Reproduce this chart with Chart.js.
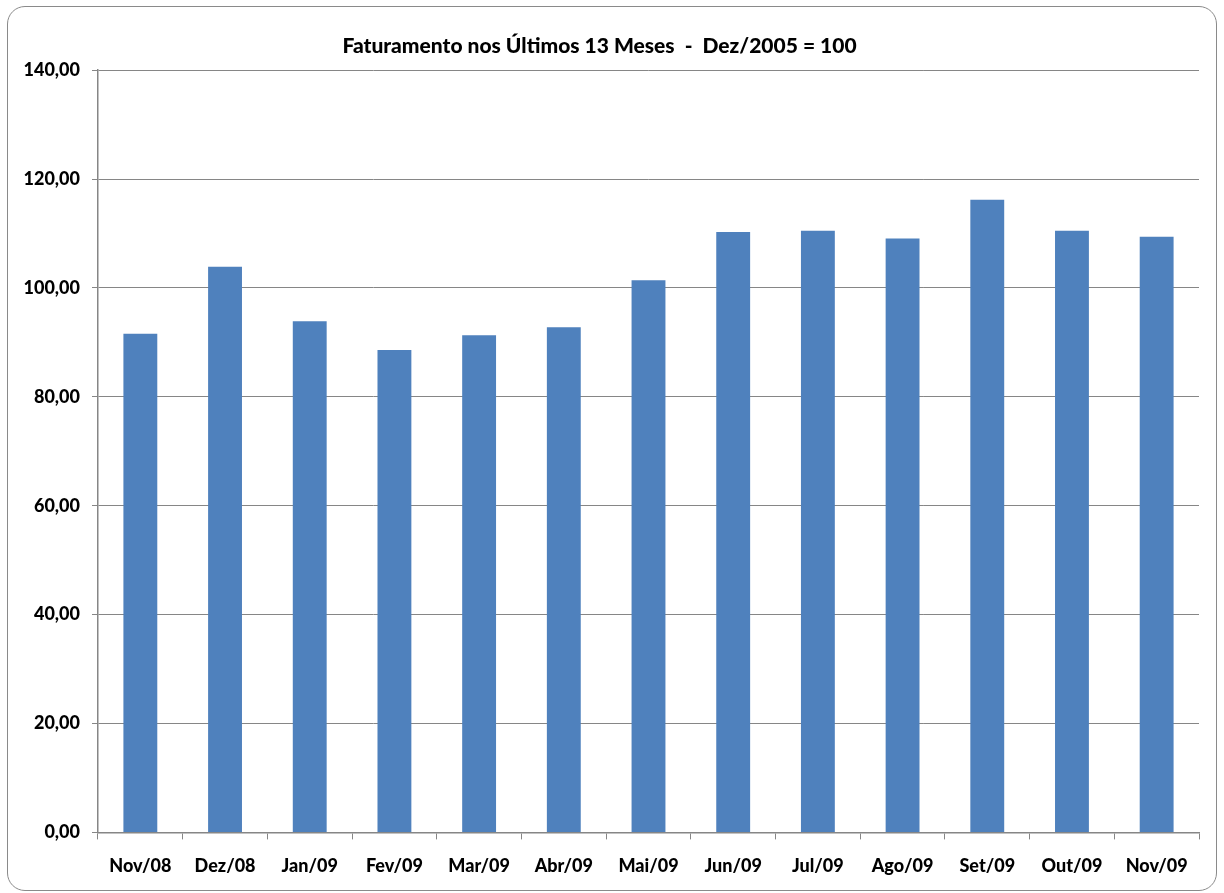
<!DOCTYPE html>
<html>
<head>
<meta charset="utf-8">
<script src="https://cdn.jsdelivr.net/npm/chart.js@4"></script>
<style>
  html, body { margin: 0; padding: 0; background: #fff; }
  #wrap { position: relative; width: 1224px; height: 893px; }
  #frame { position: absolute; left: 7px; top: 6px; width: 1208px; height: 883px;
           border: 1.5px solid #8a8a8a; border-radius: 18px; pointer-events: none; }
  canvas { position: absolute; left: 0; top: 0; }
</style>
</head>
<body>
<div id="wrap">
  <canvas id="c" width="1224" height="893"></canvas>
  <div id="frame"></div>
</div>
<script>
const categories = ["Nov/08","Dez/08","Jan/09","Fev/09","Mar/09","Abr/09","Mai/09","Jun/09","Jul/09","Ago/09","Set/09","Out/09","Nov/09"];
const values = [91.6, 103.9, 93.9, 88.6, 91.3, 92.8, 101.4, 110.3, 110.5, 109.1, 116.2, 110.5, 109.4];
const titleText = "Faturamento nos Últimos 13 Meses  -  Dez/2005 = 100";
const yMin = 0, yMax = 140, yStep = 20;

const gridColor = "#868686";
const fontFamily = "Lato, 'Open Sans', sans-serif";

new Chart(document.getElementById("c"), {
  type: "bar",
  data: {
    labels: categories,
    datasets: [{
      data: values,
      backgroundColor: "#4F81BD",
      borderWidth: 0,
      barPercentage: 0.4,
      categoryPercentage: 1.0
    }]
  },
  options: {
    responsive: false,
    animation: false,
    layout: { padding: { left: 0, right: 25, top: 0, bottom: 0 } },
    plugins: {
      legend: { display: false },
      tooltip: { enabled: false },
      title: {
        display: true,
        text: titleText,
        color: "#000",
        font: { family: fontFamily, size: 21, weight: "900", lineHeight: 1.2 },
        padding: { top: 34, bottom: 11 }
      }
    },
    scales: {
      x: {
        grid: { display: true, offset: true, drawOnChartArea: false, drawTicks: true,
                tickLength: 7, color: gridColor, lineWidth: 1 },
        border: { display: true, color: gridColor, width: 1.5 },
        ticks: { color: "#000", padding: 16, maxRotation: 0, autoSkip: false,
                 font: { family: fontFamily, size: 18, weight: "900", lineHeight: 1.2 } }
      },
      y: {
        min: yMin, max: yMax,
        afterFit: (s) => { s.width = 98; },
        grid: { color: gridColor, lineWidth: 1, drawTicks: true, tickLength: 6 },
        border: { display: true, color: gridColor, width: 1.5 },
        ticks: {
          stepSize: yStep, color: "#000", padding: 12,
          font: { family: fontFamily, size: 18, weight: "900", lineHeight: 1.2 },
          callback: (v) => v.toFixed(2).replace(".", ",")
        }
      }
    }
  }
});
</script>
</body>
</html>
